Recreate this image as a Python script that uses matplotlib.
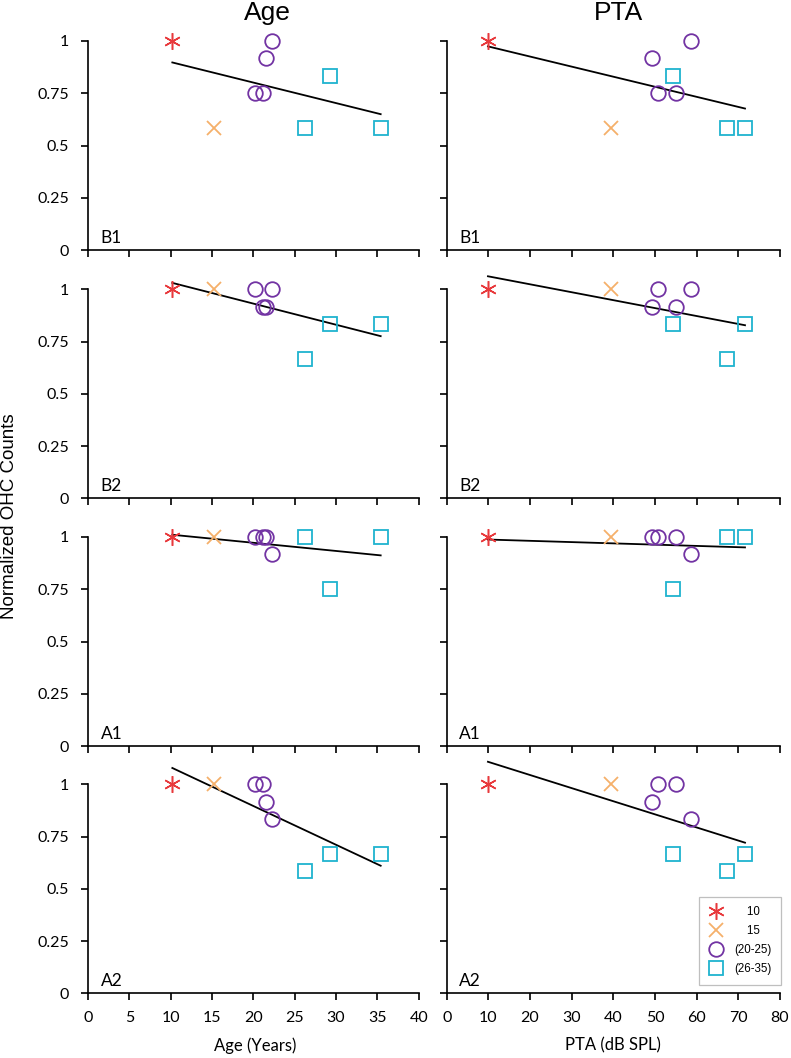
import matplotlib
matplotlib.use("Agg")
import matplotlib.pyplot as plt
import numpy as np
from matplotlib.lines import Line2D

# ---------------- data ----------------
age = [10.2, 15.3, 20.2, 21.2, 21.5, 22.2, 26.2, 29.3, 35.4]
pta = [9.9, 39.4, 50.8, 55.0, 49.2, 58.6, 67.3, 54.4, 71.6]
group = [0, 1, 2, 2, 2, 2, 3, 3, 3]
group_labels = ["10", "15", "(20-25)", "(26-35)"]

region_names = ["B1", "B2", "A1", "A2"]
b1 = [1.0, 0.583, 0.75, 0.75, 0.917, 1.0, 0.583, 0.833, 0.583]
b2 = [1.0, 1.0, 1.0, 0.917, 0.917, 1.0, 0.667, 0.833, 0.833]
a1 = [1.0, 1.0, 1.0, 1.0, 1.0, 0.917, 1.0, 0.75, 1.0]
a2 = [1.0, 1.0, 1.0, 1.0, 0.917, 0.833, 0.583, 0.667, 0.667]
region_values = [b1, b2, a1, a2]

y_ticks = [0, 0.25, 0.5, 0.75, 1]
y_tick_labels = ["0", "0.25", "0.5", "0.75", "1"]
age_ticks = [0, 5, 10, 15, 20, 25, 30, 35, 40]
pta_ticks = [0, 10, 20, 30, 40, 50, 60, 70, 80]

# ---------------- styles ----------------
colors = ["#E8393C", "#F5B06A", "#7233A3", "#1FB3CF"]
markers = [(6, 2, 0), "x", "o", "s"]
msizes = [12, 10, 10.5, 10.5]
mews = [1.1, 1.3, 1.3, 1.3]

tick_font = "Lato"
arial = "Liberation Sans"

fig = plt.figure(figsize=(7.91, 10.58), dpi=100)

W, H = 791.0, 1058.0
row_bottom_px = [250.0, 498.3, 746.0, 993.3]
unit_px = 209.0
ytop = 1.15
ax_h = ytop * unit_px / H
col_left_px = [88.0, 446.7]
col_w_px = [330.7, 333.3]

xdata = [age, pta]
xlims = [(0, 40), (0, 80)]
xticks = [age_ticks, pta_ticks]

axes = {}
for r in range(4):
    for c in range(2):
        ax = fig.add_axes([col_left_px[c] / W, (H - row_bottom_px[r]) / H,
                           col_w_px[c] / W, ax_h])
        axes[(r, c)] = ax
        x = np.array(xdata[c])
        y = np.array(region_values[r])
        for g in range(4):
            idx = [i for i in range(len(group)) if group[i] == g]
            ax.plot(x[idx], y[idx], linestyle="none", marker=markers[g],
                    markersize=msizes[g], markeredgewidth=mews[g],
                    markeredgecolor=colors[g], markerfacecolor="none",
                    color=colors[g], clip_on=False, zorder=3)
        # least-squares trend line over the data range
        k, b = np.polyfit(x, y, 1)
        xs = np.array([x.min(), x.max()])
        ax.plot(xs, k * xs + b, color="black", lw=1.3, zorder=2, clip_on=False)

        ax.set_xlim(*xlims[c])
        ax.set_ylim(0, ytop)
        ax.set_xticks(xticks[c])
        ax.set_yticks(y_ticks)
        for s in ["top", "right"]:
            ax.spines[s].set_visible(False)
        ax.spines["left"].set_bounds(0, 1)
        for s in ["left", "bottom"]:
            ax.spines[s].set_linewidth(1.2)
        ax.tick_params(direction="out", length=5, width=1.2, colors="black")
        ax.tick_params(axis="y", pad=8.5)
        ax.tick_params(axis="x", pad=8)
        if c == 0:
            ax.set_yticklabels(y_tick_labels, fontfamily=tick_font, fontsize=11.5)
        else:
            ax.set_yticklabels([])
        if r == 3:
            ax.set_xticklabels([str(t) for t in xticks[c]], fontfamily=tick_font,
                               fontsize=11.5)
        else:
            ax.set_xticklabels([])
        ax.text(0.038, 0.03, region_names[r], transform=ax.transAxes,
                fontfamily=tick_font, fontsize=12.5, ha="left", va="baseline")

# axis labels
axes[(3, 0)].set_xlabel("Age (Years)", fontfamily=tick_font, fontsize=12)
axes[(3, 0)].xaxis.set_label_coords(0.506, -0.185)
axes[(3, 1)].set_xlabel("PTA (dB SPL)", fontfamily=tick_font, fontsize=12)
axes[(3, 1)].xaxis.set_label_coords(0.5, -0.185)

fig.text(10 / W, 1 - 516 / H, "Normalized OHC Counts", rotation=90,
         ha="center", va="center", fontfamily=arial, fontsize=13.5)

fig.text(267.5 / W, 1 - 20 / H, "Age", ha="center", va="baseline",
         fontfamily=arial, fontsize=19)
fig.text(619 / W, 1 - 20 / H, "PTA", ha="center", va="baseline",
         fontfamily=arial, fontsize=19)

# legend
handles = [Line2D([], [], linestyle="none", marker=markers[g], markersize=msizes[g],
                  markeredgewidth=mews[g], markeredgecolor=colors[g],
                  markerfacecolor="none") for g in range(4)]
labels = ["    " + group_labels[0], "    " + group_labels[1],
          group_labels[2], group_labels[3]]
leg = axes[(3, 1)].legend(handles, labels, loc="lower right",
                          bbox_to_anchor=(1.003, 0.035), frameon=True,
                          fancybox=False, edgecolor="#BFBFBF", framealpha=1,
                          prop={"family": arial, "size": 8.3},
                          handlelength=1.2, handletextpad=1.0, borderpad=0.85,
                          labelspacing=0.6, borderaxespad=0)
leg.get_frame().set_linewidth(0.9)

fig.savefig("out.png", dpi=100)
